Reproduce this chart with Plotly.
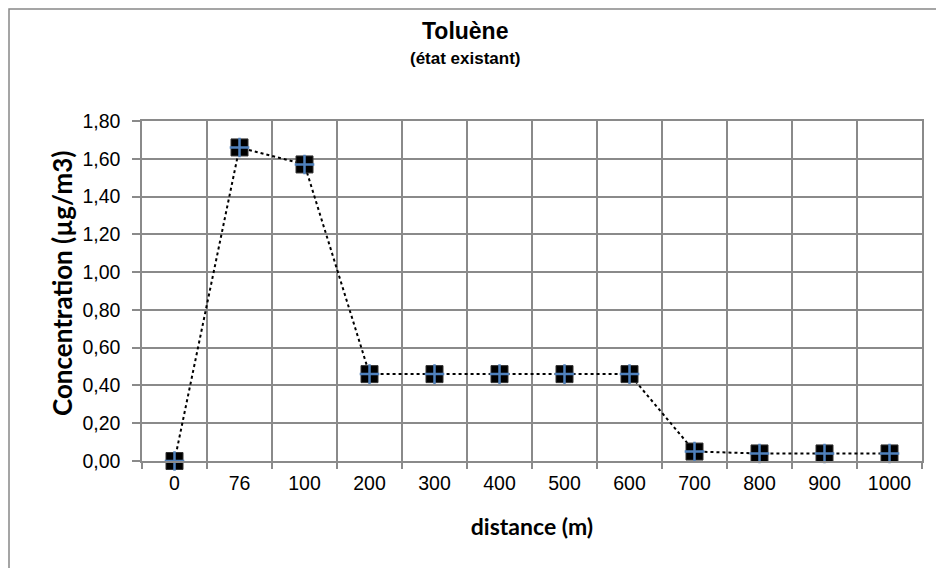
"""Toluène concentration vs distance (état existant)."""

import plotly.graph_objects as go

distances = ["0", "76", "100", "200", "300", "400", "500", "600", "700", "800", "900", "1000"]
concentration = [0.00, 1.66, 1.57, 0.46, 0.46, 0.46, 0.46, 0.46, 0.05, 0.04, 0.04, 0.04]
y_ticks = [0.0, 0.2, 0.4, 0.6, 0.8, 1.0, 1.2, 1.4, 1.6, 1.8]

GRID = "#8a8a8a"
TICK_FONT = dict(family="Liberation Sans, Arial", size=19.5, color="#000000")
LABEL_FONT = dict(family="Lato, Open Sans", size=23, color="black")

# the page body adds an 8px offset, so the figure is 8px smaller than the window
OFF = 8
W, H = 944 - OFF, 568 - OFF
L, R, T, B = 142 - OFF, 22, 121 - OFF, 107
plot_w = W - L - R
plot_h = H - T - B


def px_x(x):
    # screenshot pixel -> paper x
    return (x - OFF - L) / plot_w


def px_y(y):
    # screenshot pixel -> paper y
    return 1 - (y - OFF - T) / plot_h


fig = go.Figure()
# dotted connecting line + black square markers
fig.add_trace(go.Scatter(
    x=distances, y=concentration, mode="lines+markers",
    line=dict(color="black", width=2, dash="dot"),
    marker=dict(symbol="square", size=17, color="black",
                line=dict(color="#333333", width=1)),
    cliponaxis=False, showlegend=False, hoverinfo="skip"
))
# blue plus drawn on top of each square
fig.add_trace(go.Scatter(
    x=distances, y=concentration, mode="markers",
    marker=dict(symbol="cross-thin", size=14,
                line=dict(color="#4f81bd", width=2.5)),
    cliponaxis=False, showlegend=False,
    hovertemplate="%{x} m : %{y:.2f} µg/m3<extra></extra>"
))

fig.update_layout(
    width=W, height=H,
    margin=dict(l=L, r=R, t=T, b=B, autoexpand=False),
    paper_bgcolor="white", plot_bgcolor="white",
    separators=", ",
    annotations=[
        dict(text="<b>Toluène</b>", x=px_x(465), y=px_y(31),
             xref="paper", yref="paper", yanchor="middle", showarrow=False,
             font=dict(family="Liberation Sans, Arial", size=23, color="black")),
        dict(text="<b>(état existant)</b>", x=px_x(465), y=px_y(59),
             xref="paper", yref="paper", yanchor="middle", showarrow=False,
             font=dict(family="Liberation Sans, Arial", size=17, color="black")),
        dict(text="<b>Concentration (µg/m3)</b>", x=px_x(62), y=px_y(284),
             xref="paper", yref="paper", xanchor="center", yanchor="middle",
             textangle=-90, showarrow=False,
             font=dict(family="Lato, Open Sans", size=26, color="black")),
    ],
)

fig.update_xaxes(
    type="category", categoryorder="array", categoryarray=distances,
    range=[-0.5, len(distances) - 0.5],
    tickson="boundaries", ticks="outside", ticklen=6, tickcolor=GRID, tickwidth=1.5,
    showgrid=True, gridcolor=GRID, gridwidth=1.5,
    showline=True, linecolor=GRID, linewidth=1.5, mirror=True,
    tickfont=TICK_FONT, ticklabelstandoff=4, automargin=False,
    title=dict(text="<b>distance (m)</b>", standoff=26, font=LABEL_FONT),
)
fig.update_yaxes(
    range=[0, 1.8], tickvals=y_ticks, tickformat=".2f",
    ticks="outside", ticklen=8, tickcolor=GRID, tickwidth=1.5,
    showgrid=True, gridcolor=GRID, gridwidth=1.5, zeroline=False,
    showline=True, linecolor=GRID, linewidth=1.5, mirror=True,
    tickfont=TICK_FONT, ticklabelstandoff=8, automargin=False,
)

# chart frame (only the left and top edges fall inside the picture)
fig.add_shape(type="rect", xref="paper", yref="paper",
              x0=(1 - L) / plot_w, x1=1.3, y0=-0.6, y1=1 + (T - 1) / plot_h,
              line=dict(color="#888888", width=1.5), layer="below")

fig.write_html("out.html")
